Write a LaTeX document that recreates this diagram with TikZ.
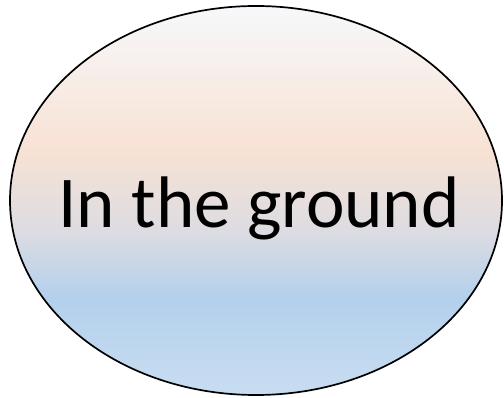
\documentclass[tikz,border=0pt]{standalone}
\usepackage{fontspec}
\setmainfont{Carlito}
\definecolor{gtop}{HTML}{F6F8FB}
\definecolor{gpeach}{HTML}{F8E2D4}
\definecolor{gmid}{HTML}{DCDCE2}
\definecolor{gblue}{HTML}{B3D0EC}
\definecolor{gbot}{HTML}{C9DDF1}
\pgfdeclareverticalshading{groundshade}{100bp}{color(0bp)=(gbot); color(25bp)=(gbot); color(37.5bp)=(gblue); color(46bp)=(gmid); color(56.5bp)=(gpeach); color(75bp)=(gtop); color(100bp)=(gtop)}
\tikzset{
  ovalshape/.style={draw=black, line width=1.7pt, shading=groundshade},
  bigtext/.style={font=\fontsize{73}{80}\selectfont, text=black, inner sep=0pt}
}
\begin{document}
\begin{tikzpicture}[x=1pt,y=1pt]
\useasboundingbox (0,0) rectangle (504,398);
\path[ovalshape] (256,197.5) ellipse [x radius=246, y radius=194.5];
\node[bigtext, anchor=base] (label) at (259,170) {In the ground};
\end{tikzpicture}
\end{document}
